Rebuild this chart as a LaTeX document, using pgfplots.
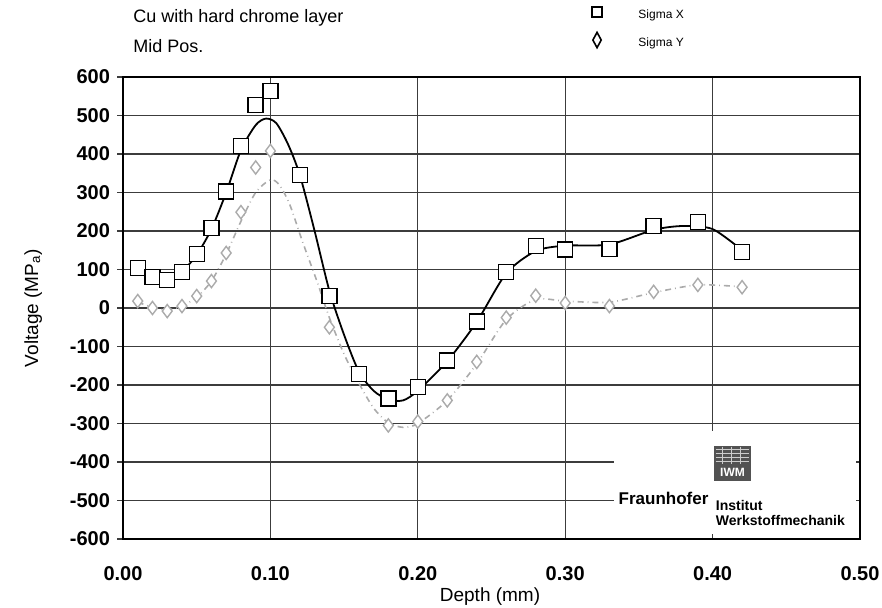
\documentclass[border=0pt]{standalone}
\usepackage{fontspec}
\setmainfont{Liberation Sans}
\usepackage{pgfplots}
\pgfplotsset{compat=1.18}
\usetikzlibrary{shapes.geometric}

\definecolor{sygray}{HTML}{ABABAB}
\definecolor{gridgray}{HTML}{3C3C3C}

\begin{document}
\begin{tikzpicture}
\path[use as bounding box] (-61.5pt,-34pt) rectangle (379.5pt,269.5pt);
\begin{axis}[
    name=ax,
    scale only axis,
    width=368.5pt, height=231pt,
    xmin=0, xmax=0.5, ymin=-600, ymax=600,
    xtick={0,0.1,0.2,0.3,0.4,0.5},
    ytick={-600,-500,-400,-300,-200,-100,0,100,200,300,400,500,600},
    grid=major,
    grid style={gridgray, line width=0.6pt},
    axis line style={line width=1pt},
    xtick pos=bottom, ytick pos=left,
    tick align=outside,
    xtick style={draw=none},
    ytick style={gridgray, line width=0.6pt},
    major tick length=3pt,
    /pgf/number format/assume math mode=true,
    ticklabel style={font=\bfseries\fontsize{10}{10}\selectfont},
    xticklabel style={/pgf/number format/.cd, fixed, fixed zerofill, precision=2, /tikz/.cd, anchor=center, yshift=-14.5pt},
    yticklabel style={/pgf/number format/.cd, fixed, /tikz/.cd},
    xlabel={Depth (mm)},
    ylabel={Voltage (MP\textsubscript{a})},
    xlabel style={at={(axis description cs:0.498,-0.124)}, anchor=center, font=\fontsize{9.5}{9.5}\selectfont},
    ylabel style={at={(axis description cs:-0.122,0.5)}, anchor=center, font=\fontsize{9.5}{9.5}\selectfont},
    clip=false,
]
% Sigma Y fitted curve
\addplot[sygray, dash dot, line width=0.8pt, smooth, tension=0.45] coordinates {
  (0.01,15) (0.02,2) (0.03,-5) (0.04,5) (0.05,28) (0.06,70) (0.07,140)
  (0.08,225) (0.09,300) (0.10,333) (0.106,320) (0.113,270) (0.122,170)
  (0.132,65) (0.14,-25) (0.15,-120) (0.16,-195) (0.17,-260) (0.18,-298)
  (0.19,-310) (0.20,-300) (0.22,-240) (0.24,-145) (0.26,-30) (0.28,22)
  (0.30,18) (0.33,15) (0.36,40) (0.39,60) (0.42,55)
};
% Sigma X fitted curve
\addplot[black, line width=0.9pt, smooth, tension=0.45] coordinates {
  (0.01,104) (0.02,86) (0.03,80) (0.04,95) (0.05,138) (0.06,205) (0.07,300)
  (0.08,410) (0.09,475) (0.097,492) (0.104,480) (0.112,425) (0.12,345)
  (0.13,200) (0.14,45) (0.15,-70) (0.16,-165) (0.17,-215) (0.18,-238)
  (0.19,-240) (0.20,-215) (0.22,-138) (0.24,-36) (0.26,90) (0.28,148)
  (0.30,162) (0.33,165) (0.36,203) (0.38,213) (0.40,205) (0.42,150)
};
% Sigma Y measured
\addplot[only marks, mark=diamond*, mark size=3.3pt,
  mark options={fill=white, draw=sygray, line width=0.7pt}] coordinates {
  (0.01,18) (0.02,0) (0.03,-8) (0.04,5) (0.05,31) (0.06,70) (0.07,143)
  (0.08,249) (0.09,365) (0.10,408) (0.14,-50) (0.18,-305) (0.20,-295)
  (0.22,-240) (0.24,-140) (0.26,-25) (0.28,32) (0.30,13) (0.33,5)
  (0.36,42) (0.39,60) (0.42,54)
};
% Sigma X measured
\addplot[only marks, mark=square*, mark size=3.75pt,
  mark options={fill=white, draw=black, line width=0.7pt}] coordinates {
  (0.01,104) (0.02,80) (0.03,72) (0.04,93) (0.05,140) (0.06,208) (0.07,303)
  (0.08,420) (0.09,527) (0.10,563) (0.12,345) (0.14,31) (0.16,-171)
  (0.18,-235) (0.20,-205) (0.22,-136) (0.24,-35) (0.26,93) (0.28,161)
  (0.30,152) (0.33,153) (0.36,213) (0.39,223) (0.42,145)
};

% institute logo
\fill[white] (axis cs:0.333,-319) rectangle (axis cs:0.497,-587);
\fill[black!68] (axis cs:0.401,-358) rectangle (axis cs:0.426,-449);
\draw[white!80!black, line width=0.5pt] (axis cs:0.402,-368) -- (axis cs:0.425,-368);
\draw[white!80!black, line width=0.5pt] (axis cs:0.402,-378) -- (axis cs:0.425,-378);
\draw[white!80!black, line width=0.5pt] (axis cs:0.402,-388) -- (axis cs:0.425,-388);
\draw[white!80!black, line width=0.5pt] (axis cs:0.402,-398) -- (axis cs:0.425,-398);
\draw[white!80!black, line width=0.5pt] (axis cs:0.407,-360) -- (axis cs:0.407,-405);
\draw[white!80!black, line width=0.5pt] (axis cs:0.413,-360) -- (axis cs:0.413,-405);
\draw[white!80!black, line width=0.5pt] (axis cs:0.419,-360) -- (axis cs:0.419,-405);
\node[white, font=\bfseries\fontsize{6}{6}\selectfont, inner sep=0] at (axis cs:0.4135,-428) {IWM};
\node[anchor=west, inner sep=0, font=\bfseries\fontsize{8.5}{8.5}\selectfont] at (axis cs:0.336,-494) {Fraunhofer};
\node[anchor=west, inner sep=0, font=\bfseries\fontsize{7}{7}\selectfont] at (axis cs:0.402,-514) {Institut};
\node[anchor=west, inner sep=0, font=\bfseries\fontsize{7}{7}\selectfont] at (axis cs:0.402,-553) {Werkstoffmechanik};

% header and legend
\node[anchor=west, inner sep=0, font=\fontsize{9}{9}\selectfont] at (axis cs:0.0068,753) {Cu with hard chrome layer};
\node[anchor=west, inner sep=0, font=\fontsize{9}{9}\selectfont] at (axis cs:0.0068,681) {Mid Pos.};
\node[draw, line width=0.8pt, rectangle, minimum size=5pt, inner sep=0] at (axis cs:0.3216,769) {};
\node[draw, line width=0.8pt, diamond, minimum width=4.5pt, minimum height=8pt, shape aspect=0.5, inner sep=0] at (axis cs:0.3216,696) {};
\node[anchor=west, inner sep=0, font=\fontsize{6}{6}\selectfont] at (axis cs:0.3494,761) {Sigma X};
\node[anchor=west, inner sep=0, font=\fontsize{6}{6}\selectfont] at (axis cs:0.3494,688) {Sigma Y};
\end{axis}
\end{tikzpicture}
\end{document}
